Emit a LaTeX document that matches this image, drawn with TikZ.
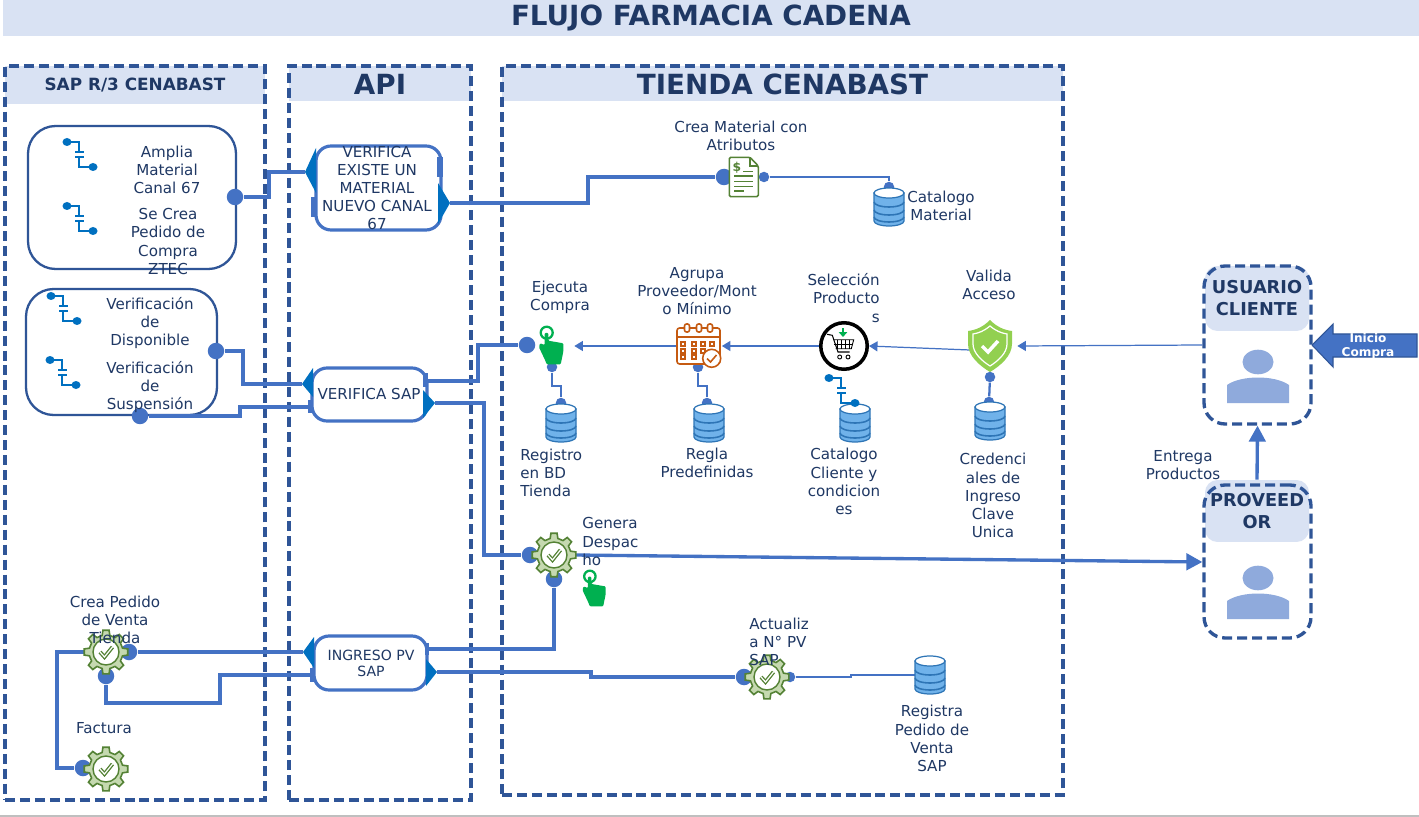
\documentclass[tikz,border=0pt]{standalone}
\usepackage{fontspec}
\setmainfont{DejaVu Sans}
\usetikzlibrary{arrows.meta}
\definecolor{hdrblue}{HTML}{D9E2F3}
\definecolor{lanecol}{HTML}{2F5597}
\definecolor{wirecol}{HTML}{4472C4}
\definecolor{txtcol}{HTML}{1F3864}
\definecolor{tabcol}{HTML}{0070C0}
\definecolor{dbfill}{HTML}{70B2EA}
\definecolor{dbline}{HTML}{2E75B6}
\definecolor{persona}{HTML}{8FAADC}
\definecolor{gearfill}{HTML}{C5D9B0}
\definecolor{gearline}{HTML}{548235}
\definecolor{handcol}{HTML}{00B050}
\definecolor{calcol}{HTML}{C55A11}
\begin{document}
\begin{tikzpicture}
[x=0.02cm,y=-0.02cm,
lane/.style={draw=lanecol,line width=1.9pt,dash pattern=on 5.7pt off 2.8pt,inner sep=0},
hdr/.style={fill=hdrblue,text=txtcol,inner sep=0,font=\bfseries},
hdrtop/.style={hdr,font=\fontsize{15.8}{18}\selectfont\bfseries},
hdrbig/.style={hdr,font=\fontsize{15.8}{18}\selectfont\bfseries},
hdrsmall/.style={hdr,font=\fontsize{9.6}{12}\selectfont\bfseries},
hdrperson/.style={hdr,align=center,rounded corners=.25cm,font=\fontsize{10.1}{12.5}\selectfont\bfseries},
groupbox/.style={draw=lanecol,line width=1.3pt,rounded corners=.55cm,inner sep=0},
procbox/.style={draw=wirecol,fill=white,line width=1.8pt,rounded corners=.3cm,inner sep=0},
tabdark/.style={fill=tabcol},
tablite/.style={fill=wirecol},
wire/.style={draw=wirecol,line width=1.8pt},
wirethin/.style={draw=wirecol,line width=1.3pt},
arrowthin/.style={draw=wirecol,line width=.7pt,-{Triangle[length=.17cm,width=.2cm]}},
arrowbig/.style={draw=wirecol,line width=1.9pt,-{Triangle[length=.32cm,width=.33cm]}},
dotbig/.style={circle,fill=wirecol,minimum size=.33cm,inner sep=0},
dotsmall/.style={circle,fill=wirecol,minimum size=.21cm,inner sep=0},
iconbox/.style={inner sep=0,minimum height=.8cm},
cartring/.style={circle,draw=black,fill=white,line width=2pt,minimum size=.93cm,inner sep=0},
lbl/.style={text=txtcol,inner sep=0,align=center,font=\fontsize{8.6}{10.3}\selectfont},
lblsmall/.style={lbl,font=\fontsize{8}{9.2}\selectfont},
lblleft/.style={lbl,align=left,anchor=west},
lblright/.style={lbl,align=right,anchor=east},
dbicon/.pic={
	\draw[dbline,line width=.7pt,fill=dbfill] (-15,-14) -- (-15,14) arc[start angle=180,end angle=0,x radius=15,y radius=5] -- (15,-14) -- cycle;
	\foreach \h in {-5,3,10}
		\draw[dbline,line width=.9pt] (-15,\h) arc[start angle=180,end angle=0,x radius=15,y radius=5];
	\draw[dbline,line width=.7pt,fill=white] (0,-14) ellipse[x radius=15,y radius=5];
},
gearicon/.pic={
	\draw[gearline,line width=.9pt,fill=gearfill] (-13:17)
		\foreach \a in {0,45,...,315} { -- (\a-13:17) -- (\a-8:22) -- (\a+8:22) -- (\a+13:17) } -- cycle;
	\draw[gearline,line width=.8pt,fill=white] (0,0) circle[radius=13];
	\draw[gearline,line width=2.2pt] (-6,0) -- (-1.5,5) -- (6.5,-5);
	\draw[white,line width=.7pt] (-6,0) -- (-1.5,5) -- (6.5,-5);
},
switchicon/.pic={
	\draw[tabcol,line width=1.1pt] (0,0) -- (12,0) -- (12,10);
	\draw[tabcol,line width=1.1pt] (8,10) -- (17,10) (8,15) -- (17,15);
	\draw[tabcol,line width=1.1pt] (12,15) -- (12,25) -- (26,25);
	\fill[tabcol] (0,0) ellipse[x radius=4.5,y radius=4] (26,25) ellipse[x radius=4.5,y radius=4];
},
handicon/.pic={
	\draw[handcol,line width=1.3pt] (-3.3,-13.3) circle[radius=6];
	\fill[handcol,rounded corners=.02cm] (-5.3,-13) -- (-5.3,-1) -- (-10,-2.7) -- (-11,1.3) -- (-5,14) -- (-3.3,18.3) -- (10.7,18.3) -- (13.3,5.7) -- (13.3,-2.7) -- (-1.7,-5.3) -- (-1.7,-13) -- cycle;
},
calicon/.pic={
	\draw[calcol,line width=.9pt,fill=white,rounded corners=.05cm] (-22,-19) rectangle (21,17);
	\draw[calcol,line width=.9pt] (-22,-10) -- (21,-10);
	\foreach \cx in {-12,0,11}
		\draw[calcol,line width=.9pt,fill=white,rounded corners=.04cm] (\cx-2.5,-23) rectangle (\cx+2.5,-15);
	\foreach \cx / \cy in {-16/-3,-5/-3,4/-3,13/-3,-16/4,-5/4,4/4,-16/10,-5/10}
		\draw[calcol,line width=.7pt] (\cx-2,\cy-2) rectangle (\cx+2,\cy+2);
	\draw[calcol,line width=.9pt,fill=white] (12.7,11.3) circle[radius=9];
	\draw[calcol,line width=.9pt] (8,11.5) -- (11.5,15) -- (17.5,8);
},
carticon/.pic={
	\draw[black,line width=.6pt] (-17,-11.7) -- (-11.7,-10.7) -- (-6,6) -- (5.7,6);
	\draw[black,line width=.5pt] (-11,-6.3) -- (9.7,-6.3) -- (7.3,2.7) -- (-8.3,2.7);
	\foreach \cx in {-7,-3,1,5}
		\draw[black,line width=.4pt] (\cx,-6.3) -- (\cx,2.7);
	\draw[black,line width=.4pt] (-10,-2) -- (8.7,-2);
	\draw[black,line width=.5pt] (-4.3,11) circle[radius=2] (4,11) circle[radius=2];
	\draw[handcol,line width=1.2pt,-{Triangle[length=.1cm,width=.17cm]}] (-1,-17.5) -- (-1,-9);
},
shieldicon/.pic={
	\fill[shieldcol] (0,-26) .. controls (-7,-19) and (-14,-16) .. (-22,-15) -- (-22,-2) .. controls (-22,10) and (-10,20) .. (0,26) .. controls (10,20) and (22,10) .. (22,-2) -- (22,-15) .. controls (14,-16) and (7,-19) .. (0,-26) -- cycle;
	\draw[white,line width=.7pt] (0,-20) .. controls (-6,-15) and (-11,-13) .. (-17,-12) -- (-17,-2) .. controls (-17,7) and (-8,15) .. (0,20) .. controls (8,15) and (17,7) .. (17,-2) -- (17,-12) .. controls (11,-13) and (6,-15) .. (0,-20) -- cycle;
	\draw[white,line width=2pt] (-8,0) -- (-2,6) -- (8,-5);
},
docicon/.pic={
	\draw[gearline,line width=.9pt,fill=white,rounded corners=.03cm] (-14.7,-19.7) -- (6,-19.7) -- (14.3,-11) -- (14.3,19.7) -- (-14.7,19.7) -- cycle;
	\draw[gearline,line width=.7pt] (6,-19.7) -- (6,-11) -- (14.3,-11);
	\node[text=gearline,inner sep=0,font=\fontsize{7}{8}\selectfont\bfseries] (docsign) at (-7,-9) {\$};
	\draw[gearline,line width=.9pt] (-1,-5.3) -- (9.3,-5.3) (-9.7,-1) -- (9.3,-1) (-9.7,4.7) -- (9.3,4.7) (-9.7,9.5) -- (9.3,9.5) (-9.7,14) -- (0,14);
},
personicon/.pic={
	\fill[persona] (0,0) ellipse[x radius=15.5,y radius=12.3];
	\fill[persona] (-31,41) -- (-31,23) .. controls (-24,18) and (-12,15.5) .. (0,15.5) .. controls (12,15.5) and (24,18) .. (31,23) -- (31,41) -- cycle;
}]
\definecolor{shieldcol}{HTML}{92D050}
\useasboundingbox (0,0) rectangle (1419,817);
\fill[white] (0,0) rectangle (1419,817);
%titulo
\node[hdrtop,minimum width=28.32cm,minimum height=.72cm] (titulo) at (711,18) {FLUJO FARMACIA CADENA};
\draw[black!25,line width=1pt] (0,816) -- (1419,816);
%carriles
\node[hdrsmall,minimum width=5.2cm,minimum height=.76cm] (hsap) at (135,85) {SAP R/3 CENABAST};
\node[hdrbig,minimum width=3.64cm,minimum height=.7cm] (hapi) at (380,84) {API};
\node[hdrbig,minimum width=11.22cm,minimum height=.7cm] (htienda) at (782.5,84) {TIENDA CENABAST};
\node[lane,minimum width=5.2cm,minimum height=14.68cm] (lsap) at (135,433) {};
\node[lane,minimum width=3.64cm,minimum height=14.68cm] (lapi) at (380,433) {};
\node[lane,minimum width=11.22cm,minimum height=14.58cm] (ltienda) at (782.5,430.5) {};
\node[hdrperson,minimum width=2.08cm,minimum height=1.3cm] (husuario) at (1257,298.5) {USUARIO\\CLIENTE};
\node[hdrperson,minimum width=2.08cm,minimum height=1.24cm] (hproveedor) at (1257,511) {PROVEED\\OR};
\node[lane,rounded corners=.42cm,minimum width=2.14cm,minimum height=3.16cm] (lusuario) at (1257.5,345) {};
\node[lane,rounded corners=.42cm,minimum width=2.14cm,minimum height=3.06cm] (lproveedor) at (1257.5,561.5) {};
%grupos
\node[groupbox,minimum width=4.16cm,minimum height=2.86cm] (gmaterial) at (132,197.5) {};
\node[groupbox,minimum width=3.82cm,minimum height=2.52cm] (gverifica) at (121.5,352) {};
%puntos
\foreach \n / \x / \y in {dmat/235/197,dver/216/351,dsus/140/416,datr/724,dgen/530/555,dgenb/554/579,dcom/527/345,dfac/83/768,dpedr/129/652,dpedb/106/676,dact/744/677}
	\ifx\n\empty\else\fi;
\foreach \n / \x / \y in {dmat/235/197,dver/216/351,dsus/140/416,datr/724/177,dgen/530/555,dgenb/554/579,dcom/527/345,dfac/83/768,dpedr/129/652,dpedb/106/676,dact/744/677}
	\node[dotbig] (\n) at (\x,\y) {};
\foreach \n / \x / \y in {datrb/764/177,dcatm/889/187,dhand/552,dreg/561/403,dcal/698/367,dregl/707/403,dshi/990/377,dcre/989/402,dactb/790/677}
	\ifx\n\empty\else\fi;
\foreach \n / \x / \y in {datrb/764/177,dcatm/889/187,dhand/552/367,dreg/561/403,dcal/698/367,dregl/707/403,dshi/990/377,dcre/989/402,dactb/790/677}
	\node[dotsmall] (\n) at (\x,\y) {};
%cajas api
\coordinate (p1in) at (305,172);
\coordinate (p1out) at (450,203);
\coordinate (p2in) at (302,384);
\coordinate (p2sus) at (308,407);
\coordinate (p2com) at (428,381);
\coordinate (p2out) at (435,403);
\coordinate (p3in) at (303,652);
\coordinate (p3ped) at (310,675);
\coordinate (p3gen) at (429,649);
\coordinate (p3out) at (437,672);
%cables
\draw[wire] (dmat) -- (269,197) -- (269,172) -- (p1in);
\draw[wire] (p1out) -- (588,203) -- (588,177) -- (datr);
\draw[wirethin] (datrb) -- (889,177) -- (dcatm);
\draw[wire] (dver) -- (243,351) -- (243,384) -- (p2in);
\draw[wire] (dsus) -- (240,416) -- (240,407) -- (p2sus);
\draw[wire] (p2com) -- (478,381) -- (478,345) -- (dcom);
\draw[wire] (p2out) -- (484,403) -- (484,555) -- (dgen);
\draw[wire] (dgenb) -- (554,649) -- (p3gen);
\draw[wire] (dpedr) -- (p3in);
\draw[wire] (dpedb) -- (106,703) -- (220,703) -- (220,675) -- (p3ped);
\draw[wire] (dpedr) -- (57,652) -- (57,768) -- (dfac);
\draw[wire] (p3out) -- (591,672) -- (591,677) -- (dact);
\draw[wirethin] (dactb) -- (851,677) -- (851,675) -- (915,675);
\draw[wirethin] (dhand) -- (552,386) -- (561,386) -- (dreg);
\draw[wirethin] (dcal) -- (698,386) -- (707,386) -- (dregl);
\draw[wirethin] (dshi) -- (dcre);
\draw[arrowbig] (575,555) -- (lproveedor.west |- 0,562);
\draw[arrowbig] (hproveedor.north) -- (lusuario.south);
%cajas de proceso
\node[procbox,minimum width=2.5cm,minimum height=1.68cm] (p1) at (378.5,188) {};
\node[procbox,minimum width=2.3cm,minimum height=1.06cm] (p2) at (369.5,394.5) {};
\node[procbox,minimum width=2.26cm,minimum height=1.08cm] (p3) at (370.5,663) {};
\fill[tabdark] (316,148) -- (p1in) -- (316,193) -- cycle;
\fill[tabdark] (438,183) -- (p1out) -- (438,224) -- cycle;
\fill[tablite] (311,197) rectangle (317,217);
\fill[tablite] (437,157) rectangle (443,177);
\fill[tabdark] (313,368) -- (p2in) -- (313,397) -- cycle;
\fill[tabdark] (423,390) -- (p2out) -- (423,418) -- cycle;
\fill[tablite] (308,400) rectangle (313,413);
\fill[tablite] (423,373) rectangle (428,387);
\fill[tabdark] (314,637) -- (p3in) -- (314,668) -- cycle;
\fill[tabdark] (426,659) -- (p3out) -- (426,686) -- cycle;
\fill[tablite] (310,668) rectangle (314,682);
\fill[tablite] (425,643) rectangle (429,655);
%iconos
\foreach \x / \y in {889/207,561/423,709/423,855/423,990/421,930/675}
	\pic at (\x,\y) {dbicon};
\foreach \x / \y in {67/142,67/206,51/296,50/360,829/378}
	\pic at (\x,\y) {switchicon};
\foreach \x / \y in {106/652,106/769,554/555,767/677}
	\pic at (\x,\y) {gearicon};
\pic at (744,177) {docicon};
%fila de compra
\node[iconbox,minimum width=.96cm] (hand) at (550,346) {};
\node[iconbox,minimum width=.9cm] (cal) at (699,346) {};
\node[cartring] (cart) at (844,346) {};
\node[iconbox,minimum width=1.08cm] (shield) at (990,346) {};
\coordinate (shieldout) at (970,350);
\draw[arrowthin] (lusuario.west) -- (shield.east);
\draw[arrowthin] (shieldout) -- (cart.east);
\draw[arrowthin] (cart.west) -- (cal.east);
\draw[arrowthin] (cal.west) -- (hand.east);
\pic at (550,346) {handicon};
\pic[scale=.95] at (593,589) {handicon};
\pic at (699,347) {calicon};
\pic at (844,346) {carticon};
\pic at (990,346) {shieldicon};
\pic at (1258,362) {personicon};
\pic at (1258,578) {personicon};
%flecha inicio
\fill[wirecol,draw=lanecol,line width=.6pt] (1312,345) -- (1333,324) -- (1333,334) -- (1417,334) -- (1417,357) -- (1333,357) -- (1333,367) -- cycle;
\begin{scope}
\clip (1335,325) rectangle (1417,357);
\node[text=white,inner sep=0,align=center,font=\fontsize{6.9}{8}\selectfont\bfseries] (tinicio) at (1368,346) {Inicio\\Compra};
\end{scope}
%textos
\foreach \n / \x / \y / \txt in {tamp/167/169.5/{Amplia\\Material\\Canal 67},tcre/168/241.5/{Se Crea\\Pedido de\\Compra\\ZTEC},tdis/150/323/{Verificación\\de\\Disponible},tsus/150/387/{Verificación\\de\\Suspensión},tp1/377/188/{VERIFICA\\EXISTE UN\\MATERIAL\\NUEVO CANAL\\67},tp2/369/394/{VERIFICA SAP},tatr/741/136/{Crea Material con\\Atributos},tcat/941/205.5/{Catalogo\\Material},teje/560/297/{Ejecuta\\Compra},tagr/697/291/{Agrupa\\Proveedor/Mont\\o Mínimo},tval/989/285/{Valida\\Acceso},trgl/707/463/{Regla\\Predefinidas},tcli/844/481.5/{Catalogo\\Cliente y\\condicion\\es},tcrd/993/495.5/{Credenci\\ales de\\Ingreso\\Clave\\Unica},tped/115/620/{Crea Pedido\\de Venta\\Tienda},tfac/104/728/{Factura},trpv/932/738.5/{Registra\\Pedido de\\Venta\\SAP},tent/1183/465/{Entrega\\Productos}}
	\node[lbl] (\n) at (\x,\y) {\txt};
\node[lblsmall] (tp3) at (371,663) {INGRESO PV\\SAP};
\node[lblleft] (treg) at (520,472.5) {Registro\\en BD\\Tienda};
\node[lblleft] (tgen) at (582,541.5) {Genera\\Despac\\ho};
\node[lblleft] (tact) at (749,642) {Actualiz\\a N° PV\\SAP};
\node[lblright] (tsel) at (880,298) {Selección\\Producto\\s};
\end{tikzpicture}
\end{document}
